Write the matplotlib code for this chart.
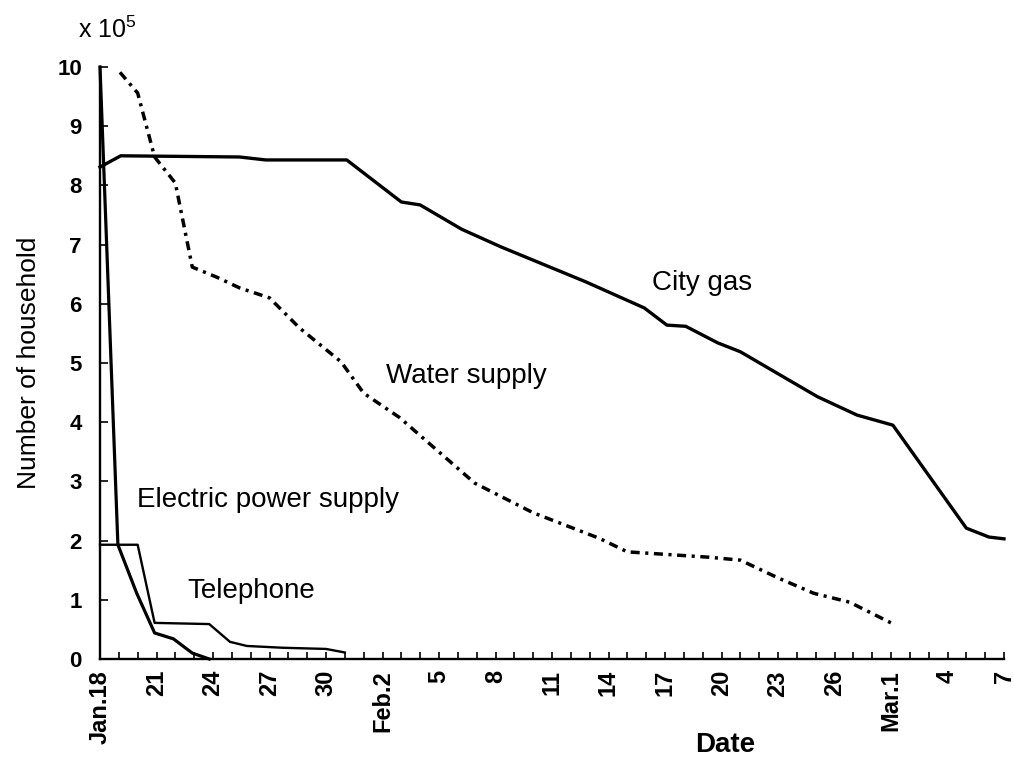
import numpy as np
import matplotlib.pyplot as plt
from matplotlib.ticker import MultipleLocator

plt.rcParams['font.family'] = ['Liberation Sans', 'DejaVu Sans']
plt.rcParams['mathtext.default'] = 'regular'

# days after Jan. 18 (1995), values in units of 10^5 households
city_gas_day = [0, 1.1, 7.4, 8.8, 13.1, 16.0, 17.0, 19.2, 21.3, 25.8, 28.9, 30.1,
                31.1, 32.8, 34.0, 36.1, 38.1, 40.2, 42.1, 46.0, 47.2, 48.0]
city_gas_val = [8.31, 8.50, 8.48, 8.43, 8.43, 7.72, 7.67, 7.26, 6.96, 6.37, 5.93, 5.64,
                5.62, 5.34, 5.19, 4.80, 4.43, 4.12, 3.95, 2.21, 2.06, 2.03]

water_day = [1.06, 2.0, 2.9, 4.0, 4.9, 6.2, 7.4, 9.0, 10.6, 12.8, 14.0, 15.9, 19.9,
             23.0, 26.5, 28.0, 32.3, 34.0, 36.0, 37.9, 39.8, 42.0]
water_val = [9.91, 9.56, 8.48, 8.04, 6.62, 6.45, 6.27, 6.10, 5.59, 5.02, 4.49, 4.08, 2.97,
             2.47, 2.04, 1.81, 1.72, 1.67, 1.37, 1.11, 0.96, 0.61]

electric_day = [0, 0.95, 1.95, 2.9, 3.9, 4.9, 5.8]
electric_val = [10.0, 1.93, 1.11, 0.44, 0.34, 0.10, 0.0]

phone_day = [0, 2.0, 2.9, 5.8, 6.9, 7.8, 9.7, 12.0, 13.0]
phone_val = [1.93, 1.93, 0.61, 0.59, 0.29, 0.22, 0.19, 0.17, 0.11]

tick_days = list(range(0, 49, 3))
tick_labels = ['Jan.18', '21', '24', '27', '30', 'Feb.2', '5', '8', '11', '14',
               '17', '20', '23', '26', 'Mar.1', '4', '7']

fig = plt.figure(figsize=(10.14, 7.65), dpi=100)
ax = fig.add_axes([100 / 1014, 1 - 659 / 765, 904 / 1014, 592 / 765])

ax.plot(city_gas_day, city_gas_val, color='black', lw=2.4, clip_on=False)
ax.plot(water_day, water_val, color='black', lw=2.5,
        linestyle=(0, (2.6, 1.6, 0.9, 1.6)), clip_on=False)
ax.plot(electric_day, electric_val, color='black', lw=2.3, clip_on=False)
ax.plot(phone_day, phone_val, color='black', lw=1.7, clip_on=False)

ax.set_xlim(0, 48)
ax.set_ylim(0, 10)
for s in ['top', 'right']:
    ax.spines[s].set_visible(False)
for s in ['left', 'bottom']:
    ax.spines[s].set_linewidth(1.7)

ax.set_xticks(tick_days)
ax.set_xticklabels(tick_labels, rotation=90, fontsize=17, fontweight='bold')
ax.xaxis.set_minor_locator(MultipleLocator(1))
ax.tick_params(axis='x', which='both', direction='in', length=5, width=1.2, pad=8)
ax.set_yticks(range(0, 11))
ax.set_yticklabels([str(i) for i in range(0, 11)], fontsize=16, fontweight='bold')
ax.tick_params(axis='y', direction='in', length=6, width=1.2, pad=13)

ax.set_ylabel('Number of household', fontsize=19, labelpad=12)
fig.text(725 / 1014, 1 - 745 / 765, 'Date', fontsize=20, fontweight='bold',
         ha='center', va='center')
fig.text(78 / 1014, 1 - 38 / 765, r'x 10$^5$', fontsize=18, ha='left', va='baseline')

ax.text(29.3, 6.23, 'City gas', fontsize=20, ha='left', va='baseline')
ax.text(15.2, 4.66, 'Water supply', fontsize=20, ha='left', va='baseline')
ax.text(1.96, 2.57, 'Electric power supply', fontsize=20, ha='left', va='baseline')
ax.text(4.65, 1.03, 'Telephone', fontsize=20, ha='left', va='baseline')

plt.savefig('out.png', dpi=100)
